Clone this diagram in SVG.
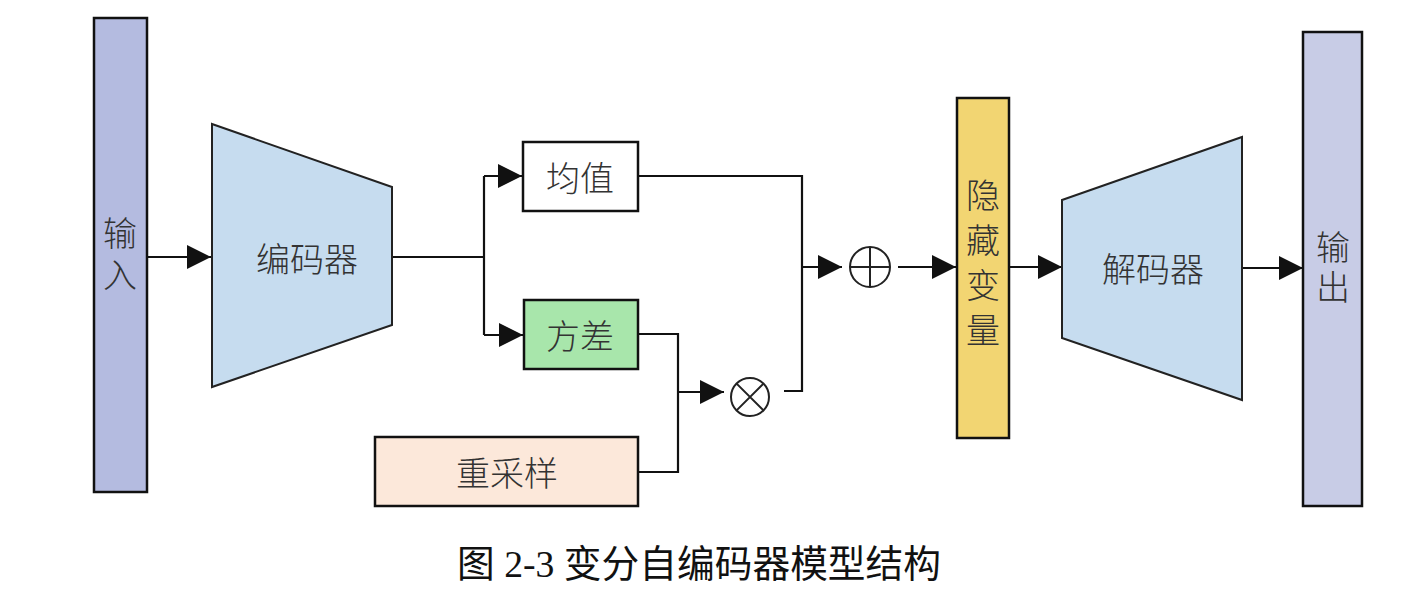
<svg xmlns="http://www.w3.org/2000/svg" width="1418" height="589" viewBox="0 0 1418 589">
<style>
.box{stroke:#111;stroke-width:2.5}
.trap{stroke:#222;stroke-width:2}
.lbl{font-family:"Noto Sans CJK SC","Noto Sans",sans-serif;font-size:34px;fill:#333;text-anchor:middle;dominant-baseline:central;font-weight:300}
.vl{font-family:"Noto Sans CJK SC","Noto Sans",sans-serif;font-size:34px;fill:#333;text-anchor:middle;writing-mode:vertical-rl;font-weight:300}
.cap{font-family:"Liberation Serif","Noto Sans CJK SC",serif;font-size:38px;fill:#111}
.con{fill:none;stroke:#111;stroke-width:2.2}
.op{fill:#fff;stroke:#222;stroke-width:2}
</style>
<defs>
<marker id="ah" markerUnits="userSpaceOnUse" markerWidth="24" markerHeight="24" viewBox="0 0 22 22" refX="22" refY="11" orient="auto">
<path d="M0,0 L22,11 L0,22 Z" fill="#111"/>
</marker>
</defs>
<rect width="1418" height="589" fill="#fff"/>
<g id="connectors">
<path class="con" d="M147,257 H211" marker-end="url(#ah)"/>
<path class="con" d="M392,257 H484"/>
<path class="con" d="M484,176 V335"/>
<path class="con" d="M484,176 H522" marker-end="url(#ah)"/>
<path class="con" d="M484,335 H523" marker-end="url(#ah)"/>
<path class="con" d="M638,176 H802 V391 H784"/>
<path class="con" d="M802,267 H842" marker-end="url(#ah)"/>
<path class="con" d="M638,334 H678 V472 H638"/>
<path class="con" d="M678,392 H724" marker-end="url(#ah)"/>
<path class="con" d="M898,267 H956" marker-end="url(#ah)"/>
<path class="con" d="M1009,267 H1062" marker-end="url(#ah)"/>
<path class="con" d="M1242,268 H1303" marker-end="url(#ah)"/>
</g>
<g id="input">
<rect class="box" x="94" y="18" width="53" height="474" fill="#b4bbe0"/>
<text class="vl" x="120" y="258" letter-spacing="8">输入</text>
</g>
<g id="encoder">
<polygon class="trap" points="212,124 392,187 392,325 212,387" fill="#c6dcef"/>
<text class="lbl" x="307" y="257">编码器</text>
</g>
<g id="mean">
<rect class="box" x="523" y="142" width="115" height="69" fill="#fff"/>
<text class="lbl" x="580" y="176">均值</text>
</g>
<g id="variance">
<rect class="box" x="524" y="300" width="114" height="69" fill="#a8e6ab"/>
<text class="lbl" x="580" y="334">方差</text>
</g>
<g id="resample">
<rect class="box" x="375" y="437" width="263" height="69" fill="#fce8da"/>
<text class="lbl" x="507" y="471">重采样</text>
</g>
<g id="multiply">
<circle class="op" cx="750" cy="397" r="19"/>
<path d="M736.6,383.6 L763.4,410.4 M763.4,383.6 L736.6,410.4" stroke="#222" stroke-width="2"/>
</g>
<g id="add">
<circle class="op" cx="870" cy="267" r="20"/>
<path d="M850,267 H890 M870,247 V287" stroke="#222" stroke-width="2"/>
</g>
<g id="latent">
<rect class="box" x="957" y="98" width="52" height="340" fill="#f2d572"/>
<text class="vl" x="983" y="268" letter-spacing="11">隐藏变量</text>
</g>
<g id="decoder">
<polygon class="trap" points="1062,200 1242,137 1242,400 1062,338" fill="#c6dcef"/>
<text class="lbl" x="1153" y="267">解码器</text>
</g>
<g id="output">
<rect class="box" x="1303" y="32" width="59" height="474" fill="#c8cce6"/>
<text class="vl" x="1333" y="270" letter-spacing="6">输出</text>
</g>
<g id="caption">
<text class="cap" x="457" y="577" textLength="484" lengthAdjust="spacingAndGlyphs">图 2-3 变分自编码器模型结构</text>
</g>
</svg>
